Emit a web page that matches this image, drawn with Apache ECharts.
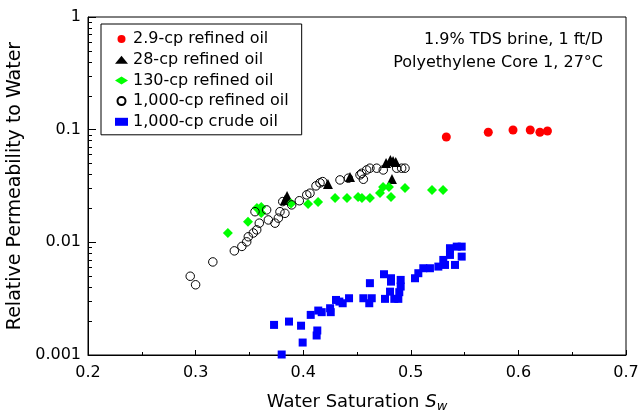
<!DOCTYPE html>
<html>
<head>
<meta charset="utf-8">
<script src="https://cdn.jsdelivr.net/npm/echarts@6/dist/echarts.min.js"></script>
<style>html,body{margin:0;padding:0;background:#fff;}#c{width:639px;height:414px;}</style>
</head>
<body>
<div id="c"></div>
<script>
// Series names
const seriesNames = ['2.9-cp refined oil', '28-cp refined oil', '130-cp refined oil', '1,000-cp refined oil', '1,000-cp crude oil'];

// 2.9-cp refined oil
const sw29 = [0.533, 0.572, 0.595, 0.611, 0.620, 0.627];
const kr29 = [0.086, 0.0948, 0.0994, 0.0994, 0.0948, 0.0974];

// 28-cp refined oil
const sw28 = [0.383, 0.385, 0.423, 0.4435, 0.477, 0.481, 0.4835, 0.486, 0.4825];
const kr28 = [0.0238, 0.0258, 0.033, 0.038, 0.0507, 0.0539, 0.0527, 0.0517, 0.0365];

// 130-cp refined oil
const sw130 = [0.330, 0.3487, 0.357, 0.361, 0.361, 0.3887, 0.4045, 0.4138, 0.4296, 0.4407, 0.451, 0.4546, 0.462, 0.4714, 0.4742, 0.4797, 0.4816, 0.4946, 0.5197, 0.530];
const kr130 = [0.0121, 0.0152, 0.0202, 0.0206, 0.0182, 0.0221, 0.0219, 0.0228, 0.0248, 0.0248, 0.0253, 0.0248, 0.0248, 0.0274, 0.031, 0.031, 0.0253, 0.0304, 0.0292, 0.0292];

// 1,000-cp refined oil
const sw1000r = [0.295, 0.300, 0.316, 0.336, 0.343, 0.3475, 0.349, 0.3536, 0.3568, 0.3592, 0.3552, 0.366, 0.3676, 0.3738, 0.3769, 0.3784, 0.381, 0.383, 0.3893, 0.3964, 0.4033, 0.4063, 0.4119, 0.4156, 0.4181, 0.4342, 0.442, 0.4528, 0.4559, 0.4544, 0.459, 0.462, 0.4683, 0.4744, 0.4869, 0.4915, 0.4946];
const kr1000r = [0.0050, 0.0042, 0.0067, 0.0084, 0.0092, 0.0101, 0.0112, 0.0121, 0.0129, 0.0148, 0.0187, 0.0194, 0.0158, 0.0148, 0.0164, 0.0187, 0.0230, 0.0181, 0.0215, 0.0234, 0.0264, 0.0273, 0.0317, 0.0337, 0.0346, 0.0358, 0.0371, 0.0397, 0.0363, 0.0410, 0.0439, 0.0455, 0.0455, 0.0439, 0.0455, 0.0455, 0.0455];

// 1,000-cp crude oil
const sw1000c = [0.3729, 0.380, 0.3868, 0.398, 0.3995, 0.4125, 0.4131, 0.407, 0.414, 0.4172, 0.425, 0.4256, 0.4305, 0.4336, 0.4367, 0.4426, 0.4559, 0.4637, 0.4614, 0.462, 0.4751, 0.4816, 0.4816, 0.4906, 0.4906, 0.4893, 0.4807, 0.476, 0.4847, 0.4884, 0.5039, 0.507, 0.5116, 0.5178, 0.5256, 0.5318, 0.5302, 0.5364, 0.5364, 0.5427, 0.5473, 0.5473, 0.5411];
const kr1000c = [0.00185, 0.00101, 0.00198, 0.00182, 0.00129, 0.00149, 0.00165, 0.00227, 0.00248, 0.00240, 0.0026, 0.0024, 0.00308, 0.00298, 0.00288, 0.00319, 0.00319, 0.00319, 0.00288, 0.00434, 0.00521, 0.0048, 0.00448, 0.00464, 0.00405, 0.00361, 0.00365, 0.00315, 0.00315, 0.00315, 0.0048, 0.00532, 0.00589, 0.00589, 0.00609, 0.0063, 0.00698, 0.00773, 0.00887, 0.00916, 0.00916, 0.00747, 0.0063];

// Axis ticks
const xTicks = [0.2, 0.3, 0.4, 0.5, 0.6, 0.7];
const yTickLabels = ['0.001', '0.01', '0.1', '1'];
const yMinorTicks = [0.002,0.003,0.004,0.005,0.006,0.007,0.008,0.009,0.02,0.03,0.04,0.05,0.06,0.07,0.08,0.09,0.2,0.3,0.4,0.5,0.6,0.7,0.8,0.9];

const annotation = ['1.9% TDS brine, 1 ft/D', 'Polyethylene Core 1, 27°C'];

const FONT = 'DejaVu Sans';
const pairs = (xs, ys) => xs.map((x, i) => [x, ys[i]]);

const chart = echarts.init(document.getElementById('c'), null, {renderer: 'canvas'});
chart.setOption({
  animation: false,
  backgroundColor: '#fff',
  textStyle: {fontFamily: FONT, color: '#000'},
  grid: {left: 88, right: 13, top: 17, bottom: 59, containLabel: false, outerBoundsMode: 'none',
    show: true, borderColor: '#000', borderWidth: 1, backgroundColor: 'transparent'},
  xAxis: {
    type: 'value', min: 0.2, max: 0.7, interval: 0.1,
    axisLine: {show: true, onZero: false, lineStyle: {color: '#000', width: 1}},
    axisTick: {show: true, inside: true, length: 5, lineStyle: {color: '#000'}},
    minorTick: {show: true, splitNumber: 2, length: 3, lineStyle: {color: '#000'}},
    splitLine: {show: false},
    axisLabel: {fontFamily: FONT, fontSize: 16, color: '#000', margin: 10,
      formatter: v => { const t = xTicks.find(k => Math.abs(k - v) < 1e-9); return t === undefined ? '' : String(t); }},
    name: '{n|Water Saturation }{s|S}{w|w}',
    nameLocation: 'middle', nameGap: 37,
    nameTextStyle: {rich: {
      n: {fontFamily: FONT, fontSize: 18, color: '#000'},
      s: {fontFamily: FONT, fontSize: 18, fontStyle: 'italic', color: '#000'},
      w: {fontFamily: FONT, fontSize: 13, fontStyle: 'italic', color: '#000', verticalAlign: 'bottom', padding: [8, 0, 0, 0]}
    }}
  },
  yAxis: [{
    type: 'log', logBase: 10, min: 0.001, max: 1,
    axisLine: {show: true, onZero: false, lineStyle: {color: '#000', width: 1}},
    axisTick: {show: true, inside: true, length: 8, lineStyle: {color: '#000'}},
    splitLine: {show: false},
    axisLabel: {fontFamily: FONT, fontSize: 16, color: '#000', margin: 7,
      formatter: v => { const s = yTickLabels.find(t => Math.abs(parseFloat(t) - v) / v < 1e-6); return s || ''; }},
    name: 'Relative Permeability to Water',
    nameLocation: 'middle', nameGap: 52,
    nameTextStyle: {fontFamily: FONT, fontSize: 19, color: '#000'}
  }, {
    // helper log axis, only draws the 2..9 minor ticks
    type: 'log', logBase: 10, min: 0.001, max: 1, position: 'left',
    axisLine: {show: false},
    axisTick: {show: true, inside: true, length: 4, lineStyle: {color: '#000'}, customValues: yMinorTicks},
    axisLabel: {show: false},
    splitLine: {show: false}
  }],
  legend: {
    orient: 'vertical', left: 101, top: 24,
    padding: [7, 13, 5, 14],
    itemWidth: 13, itemHeight: 8, itemGap: 4.7,
    borderColor: '#000', borderWidth: 1, borderRadius: 0,
    selectedMode: false,
    textStyle: {fontFamily: FONT, fontSize: 16, color: '#000', lineHeight: 16},
    data: seriesNames
  },
  graphic: [{
    type: 'text', x: 603, y: 28,
    style: {text: annotation.join('\n'), fontFamily: FONT, fontSize: 16, fill: '#000', align: 'right', verticalAlign: 'top', lineHeight: 23}
  }],
  series: [
    {name: seriesNames[0], type: 'scatter', symbol: 'circle', symbolSize: 9, itemStyle: {color: '#ff0000', opacity: 1}, data: pairs(sw29, kr29)},
    {name: seriesNames[1], type: 'scatter', symbol: 'triangle', symbolSize: 10, itemStyle: {color: '#000000', opacity: 1}, data: pairs(sw28, kr28)},
    {name: seriesNames[2], type: 'scatter', symbol: 'diamond', symbolSize: 10, itemStyle: {color: '#00ff00', opacity: 1}, data: pairs(sw130, kr130)},
    {name: seriesNames[3], type: 'scatter', symbol: 'circle', symbolSize: 8.5, itemStyle: {color: 'rgba(255,255,255,0)', borderColor: '#000', borderWidth: 1, opacity: 1}, data: pairs(sw1000r, kr1000r)},
    {name: seriesNames[4], type: 'scatter', symbol: 'rect', symbolSize: 8, itemStyle: {color: '#0000ff', opacity: 1}, data: pairs(sw1000c, kr1000c)}
  ]
});
</script>
</body>
</html>
